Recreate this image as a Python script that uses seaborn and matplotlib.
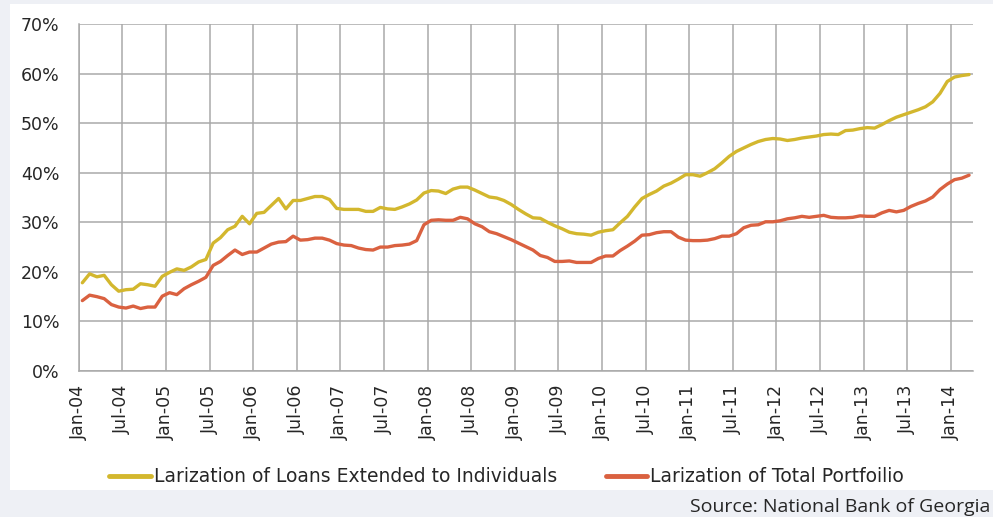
import numpy as np
import pandas as pd
import matplotlib
matplotlib.use("Agg")
import matplotlib.pyplot as plt
import matplotlib.patches as mpatches
import seaborn as sns

# Monthly larization shares (%), Jan-2004 .. Mar-2014
start_month = "2004-01"
n_months = 123

individuals = [
    17.8, 19.6, 19.0, 19.3, 17.4, 16.1, 16.4, 16.5, 17.6, 17.4, 17.1, 19.1,
    19.9, 20.6, 20.3, 21.0, 22.0, 22.5, 25.8, 26.9, 28.5, 29.2, 31.2, 29.7,
    31.8, 32.0, 33.4, 34.8, 32.7, 34.4, 34.4, 34.8, 35.2, 35.2, 34.6, 32.8,
    32.6, 32.6, 32.6, 32.2, 32.2, 33.0, 32.7, 32.6, 33.1, 33.7, 34.5, 35.9,
    36.4, 36.3, 35.8, 36.7, 37.1, 37.1, 36.5, 35.8, 35.1, 34.9, 34.4, 33.6,
    32.6, 31.7, 30.9, 30.8, 30.0, 29.3, 28.7, 28.0, 27.7, 27.6, 27.4, 28.0,
    28.3, 28.5, 29.9, 31.2, 33.1, 34.8, 35.6, 36.3, 37.3, 37.9, 38.7, 39.6,
    39.6, 39.3, 40.0, 40.8, 42.0, 43.3, 44.3, 45.0, 45.7, 46.3, 46.7, 46.9,
    46.8, 46.5, 46.7, 47.0, 47.2, 47.4, 47.7, 47.8, 47.7, 48.5, 48.6, 48.9,
    49.1, 49.0, 49.7, 50.5, 51.2, 51.7, 52.2, 52.7, 53.3, 54.3, 56.0, 58.4,
    59.3, 59.6, 59.8,
]

total = [
    14.2, 15.3, 15.0, 14.6, 13.4, 12.9, 12.7, 13.1, 12.6, 12.9, 12.9, 15.1,
    15.8, 15.4, 16.6, 17.4, 18.1, 18.9, 21.3, 22.1, 23.3, 24.4, 23.5, 24.0,
    24.0, 24.8, 25.6, 26.0, 26.1, 27.2, 26.4, 26.5, 26.8, 26.8, 26.4, 25.7,
    25.4, 25.3, 24.8, 24.5, 24.4, 25.0, 25.0, 25.3, 25.4, 25.6, 26.3, 29.5,
    30.4, 30.5, 30.4, 30.4, 31.0, 30.7, 29.7, 29.1, 28.1, 27.7, 27.1, 26.5,
    25.8, 25.1, 24.4, 23.3, 22.9, 22.1, 22.1, 22.2, 21.9, 21.9, 21.9, 22.7,
    23.2, 23.2, 24.3, 25.2, 26.2, 27.4, 27.5, 27.9, 28.1, 28.1, 27.0, 26.4,
    26.3, 26.3, 26.4, 26.7, 27.2, 27.2, 27.7, 28.9, 29.4, 29.5, 30.1, 30.1,
    30.3, 30.7, 30.9, 31.2, 31.0, 31.2, 31.4, 31.0, 30.9, 30.9, 31.0, 31.3,
    31.2, 31.2, 31.9, 32.4, 32.1, 32.4, 33.2, 33.8, 34.3, 35.1, 36.6, 37.7,
    38.6, 38.9, 39.5,
]

series_names = ["Larization of Loans Extended to Individuals",
                "Larization of Total Portfoilio"]
series_colors = ["#D3B72E", "#DA6140"]

y_ticks = [0, 10, 20, 30, 40, 50, 60, 70]

months = pd.date_range(start_month, periods=n_months, freq="MS")
tick_idx = np.arange(0, n_months, 6)
tick_labels = [months[i].strftime("%b-%y") for i in tick_idx]

df = pd.DataFrame({
    "pos": np.arange(n_months) + 0.5,   # centre of each monthly category
    series_names[0]: individuals,
    series_names[1]: total,
})
long_df = df.melt(id_vars="pos", var_name="series", value_name="value")

sns.set_theme(style="white")
plt.rcParams["font.family"] = ["DejaVu Sans"]

fig = plt.figure(figsize=(9.93, 5.17), dpi=100, facecolor="#EEF0F5")
# white chart panel behind everything
fig.patches.append(mpatches.Rectangle((10 / 993, 1 - 490 / 517), 983 / 993, 486 / 517,
                                      transform=fig.transFigure, facecolor="white",
                                      edgecolor="none", zorder=-10))

ax = fig.add_axes([78.7 / 993, 1 - 371 / 517, (972.7 - 78.7) / 993, (371 - 24) / 517])
ax.set_zorder(2)
ax.set_facecolor("none")

sns.lineplot(data=long_df, x="pos", y="value", hue="series",
             palette=dict(zip(series_names, series_colors)),
             linewidth=2.4, ax=ax, legend=False)

grid_col = "#A9A9A9"
ax.set_xlim(0, n_months)
ax.set_ylim(0, 70)
ax.set_xticks(tick_idx)
ax.set_xticklabels(tick_labels, rotation=90, fontsize=12.5, color="#262626")
ax.set_yticks(y_ticks)
ax.set_yticklabels([f"{v}%" for v in y_ticks], fontsize=12.5, color="#262626")
ax.grid(True, color=grid_col, linewidth=1.1)
ax.set_axisbelow(True)
ax.tick_params(axis="both", which="major", direction="out", length=6,
               width=1.1, color=grid_col)
ax.tick_params(axis="y", pad=8)
ax.tick_params(axis="x", pad=4)
for side in ["top", "right"]:
    ax.spines[side].set_visible(False)
for side in ["left", "bottom"]:
    ax.spines[side].set_color(grid_col)
    ax.spines[side].set_linewidth(1.1)
ax.set_xlabel("")
ax.set_ylabel("")

handles = [plt.Line2D([], [], color=c, linewidth=3.5) for c in series_colors]
fig.legend(handles, series_names, loc="center", bbox_to_anchor=(0.51, 1 - 477 / 517),
           ncol=2, frameon=False, fontsize=13.5, handlelength=2.2, handletextpad=0.15,
           columnspacing=2.6, labelcolor="#262626")

fig.text(0.997, 1 - 507 / 517, "Source: National Bank of Georgia", ha="right",
         va="center", fontsize=14, color="#262626", family=["Open Sans", "DejaVu Sans"])

fig.savefig("out.png", dpi=100, facecolor=fig.get_facecolor())
